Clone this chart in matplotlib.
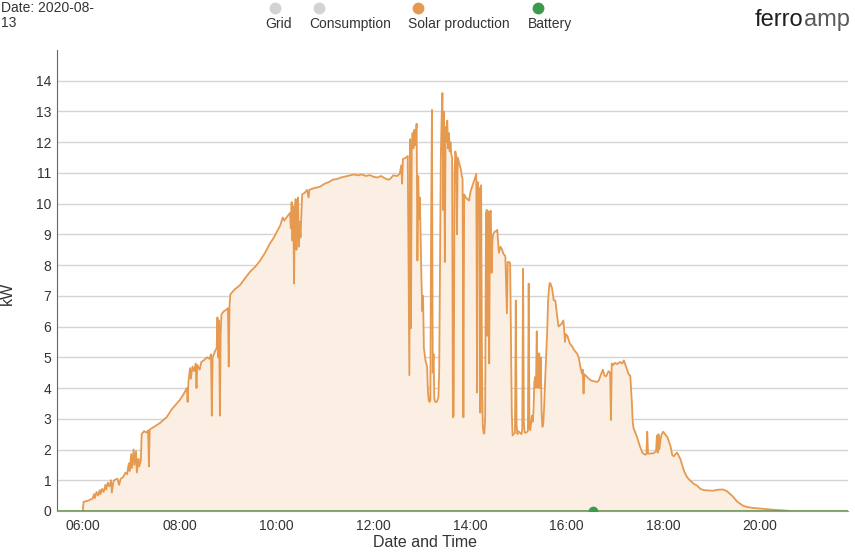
import matplotlib
matplotlib.use("Agg")
import matplotlib.pyplot as plt
import matplotlib.dates as mdates
from matplotlib.lines import Line2D
import pandas as pd

plt.rcParams["font.family"] = ["Liberation Sans", "DejaVu Sans"]

DAY = "2020-08-13"

# solar production, kW
solar_times = [
    "06:00", "06:01", "06:06", "06:12", "06:14", "06:15", "06:17", "06:19", "06:21", "06:22",
    "06:24", "06:26", "06:28", "06:29", "06:31", "06:33", "06:35", "06:36", "06:38", "06:40",
    "06:43", "06:45", "06:47", "06:50", "06:53", "06:55", "06:57", "06:58", "07:00", "07:01",
    "07:03", "07:04", "07:06", "07:07", "07:09", "07:10", "07:12", "07:13", "07:16", "07:19",
    "07:21", "07:22", "07:23", "07:29", "07:35", "07:44", "07:50", "07:55", "08:00", "08:05",
    "08:09", "08:10", "08:11", "08:13", "08:14", "08:16", "08:18", "08:20", "08:21", "08:22",
    "08:25", "08:27", "08:30", "08:34", "08:37", "08:39", "08:40", "08:41", "08:44", "08:46",
    "08:47", "08:48", "08:49", "08:50", "08:51", "08:52", "08:55", "08:58", "09:00", "09:01",
    "09:02", "09:03", "09:08", "09:15", "09:22", "09:28", "09:34", "09:40", "09:46", "09:52",
    "09:57", "10:01", "10:05", "10:08", "10:10", "10:14", "10:17", "10:18", "10:19", "10:20",
    "10:21", "10:22", "10:23", "10:24", "10:25", "10:26", "10:27", "10:28", "10:29", "10:30",
    "10:31", "10:32", "10:35", "10:38", "10:40", "10:41", "10:46", "10:54", "11:00", "11:05",
    "11:10", "11:15", "11:20", "11:25", "11:31", "11:36", "11:41", "11:46", "11:51", "11:56",
    "12:00", "12:05", "12:10", "12:15", "12:19", "12:21", "12:25", "12:30", "12:33", "12:35",
    "12:36", "12:37", "12:41", "12:43", "12:45", "12:46", "12:47", "12:48", "12:49", "12:50",
    "12:51", "12:52", "12:54", "12:55", "12:56", "12:57", "12:58", "12:59", "13:00", "13:01",
    "13:02", "13:03", "13:05", "13:07", "13:08", "13:09", "13:10", "13:11", "13:12", "13:13",
    "13:14", "13:15", "13:16", "13:17", "13:19", "13:21", "13:22", "13:23", "13:24", "13:25",
    "13:26", "13:27", "13:28", "13:29", "13:30", "13:31", "13:32", "13:33", "13:34", "13:35",
    "13:36", "13:37", "13:38", "13:39", "13:40", "13:41", "13:42", "13:43", "13:44", "13:45",
    "13:47", "13:49", "13:50", "13:51", "13:52", "13:53", "13:55", "13:57", "13:59", "14:01",
    "14:04", "14:06", "14:08", "14:09", "14:10", "14:11", "14:12", "14:13", "14:14", "14:15",
    "14:16", "14:17", "14:18", "14:19", "14:20", "14:21", "14:22", "14:23", "14:24", "14:25",
    "14:26", "14:27", "14:28", "14:29", "14:31", "14:33", "14:34", "14:36", "14:38", "14:40",
    "14:42", "14:44", "14:46", "14:47", "14:49", "14:50", "14:51", "14:52", "14:53", "14:54",
    "14:56", "14:57", "14:58", "14:59", "15:00", "15:02", "15:04", "15:05", "15:06", "15:07",
    "15:08", "15:10", "15:12", "15:13", "15:14", "15:15", "15:17", "15:18", "15:19", "15:20",
    "15:21", "15:22", "15:23", "15:24", "15:25", "15:26", "15:27", "15:28", "15:29", "15:30",
    "15:31", "15:32", "15:33", "15:35", "15:36", "15:37", "15:38", "15:39", "15:40", "15:42",
    "15:44", "15:46", "15:48", "15:50", "15:52", "15:54", "15:56", "15:57", "15:58", "15:59",
    "16:01", "16:04", "16:07", "16:09", "16:13", "16:15", "16:17", "16:19", "16:20", "16:21",
    "16:22", "16:24", "16:27", "16:30", "16:34", "16:38", "16:40", "16:42", "16:45", "16:47",
    "16:49", "16:52", "16:54", "16:55", "16:56", "16:58", "17:00", "17:03", "17:06", "17:09",
    "17:11", "17:13", "17:15", "17:17", "17:19", "17:21", "17:22", "17:23", "17:26", "17:28",
    "17:31", "17:34", "17:37", "17:39", "17:40", "17:41", "17:44", "17:48", "17:51", "17:52",
    "17:53", "17:54", "17:55", "17:57", "17:58", "18:00", "18:02", "18:05", "18:07", "18:09",
    "18:11", "18:13", "18:15", "18:17", "18:19", "18:21", "18:24", "18:26", "18:29", "18:31",
    "18:34", "18:38", "18:42", "18:46", "18:50", "18:55", "19:02", "19:07", "19:14", "19:19",
    "19:23", "19:27", "19:31", "19:35", "19:39", "19:44", "19:51", "20:00", "20:09", "20:16",
    "20:29", "20:37",
]
solar_kw = [
    0.00, 0.30, 0.33, 0.40, 0.55, 0.42, 0.62, 0.50, 0.68, 0.55,
    0.72, 0.62, 0.85, 0.70, 0.92, 0.80, 1.00, 0.60, 0.95, 1.02,
    1.05, 0.85, 1.05, 1.10, 1.25, 1.20, 1.55, 1.30, 1.85, 1.40,
    2.00, 1.50, 1.95, 1.25, 1.70, 1.45, 1.65, 2.50, 2.60, 2.55,
    2.62, 1.45, 2.65, 2.75, 2.85, 3.05, 3.30, 3.45, 3.60, 3.80,
    4.00, 3.55, 4.20, 4.65, 4.30, 4.70, 4.55, 4.80, 4.00, 4.75,
    4.60, 4.85, 4.90, 5.00, 4.95, 5.10, 3.10, 5.00, 5.20, 5.30,
    6.30, 5.00, 6.20, 3.10, 5.80, 6.40, 6.50, 6.55, 6.60, 4.70,
    6.70, 7.05, 7.20, 7.35, 7.60, 7.80, 7.95, 8.15, 8.40, 8.70,
    8.90, 9.10, 9.30, 9.55, 9.45, 9.60, 9.70, 9.20, 10.05, 8.80,
    9.90, 7.40, 9.80, 10.15, 8.50, 9.90, 10.20, 8.60, 9.40, 8.90,
    9.60, 10.30, 10.35, 10.45, 10.20, 10.45, 10.50, 10.55, 10.65, 10.70,
    10.78, 10.80, 10.85, 10.88, 10.92, 10.95, 10.92, 10.95, 10.90, 10.93,
    10.88, 10.85, 10.90, 10.82, 10.78, 10.80, 10.92, 10.90, 10.97, 11.25,
    10.65, 11.45, 11.50, 11.55, 4.42, 12.10, 5.95, 11.90, 12.30, 11.80,
    12.40, 11.90, 12.60, 8.15, 10.90, 9.50, 10.20, 8.80, 7.50, 6.50,
    7.00, 5.30, 4.90, 4.70, 3.90, 3.60, 3.55, 3.60, 9.40, 13.05,
    4.50, 5.10, 3.65, 3.55, 3.55, 3.70, 4.50, 8.00, 11.50, 12.80,
    13.60, 9.80, 13.00, 8.10, 12.50, 12.00, 12.70, 11.80, 12.30, 11.70,
    12.00, 11.60, 11.50, 3.05, 3.10, 11.00, 11.70, 11.55, 9.00, 11.50,
    11.30, 11.10, 10.90, 10.80, 3.05, 10.30, 10.20, 10.15, 10.10, 10.40,
    10.65, 10.80, 10.97, 3.85, 10.70, 10.40, 10.50, 3.20, 10.60, 5.00,
    2.80, 2.55, 2.52, 3.00, 9.67, 9.80, 5.70, 9.75, 4.80, 9.70,
    9.77, 7.75, 8.80, 9.00, 9.10, 9.10, 9.15, 8.40, 8.60, 8.50,
    8.35, 8.30, 6.43, 8.10, 8.10, 8.05, 5.50, 3.20, 2.46, 2.50,
    2.55, 6.85, 2.80, 2.50, 2.60, 2.55, 2.50, 2.65, 7.88, 2.90,
    2.55, 2.55, 2.60, 7.40, 2.70, 2.63, 3.10, 2.90, 3.30, 4.20,
    4.36, 4.00, 5.85, 4.10, 4.00, 5.13, 4.00, 5.00, 3.20, 2.74,
    2.80, 3.30, 4.00, 5.30, 5.90, 6.80, 7.20, 7.42, 7.40, 7.25,
    6.86, 6.85, 6.40, 6.00, 6.05, 6.10, 6.20, 5.90, 5.50, 5.75,
    5.70, 5.45, 5.35, 5.25, 5.12, 5.00, 4.70, 4.47, 4.60, 3.82,
    4.45, 4.40, 4.32, 4.25, 4.22, 4.20, 4.25, 4.40, 4.60, 4.40,
    4.38, 4.55, 4.50, 2.96, 4.80, 4.75, 4.82, 4.78, 4.85, 4.80,
    4.90, 4.75, 4.60, 4.45, 4.40, 3.50, 2.90, 2.70, 2.50, 2.35,
    2.10, 1.90, 1.83, 1.85, 2.58, 1.87, 1.87, 1.88, 1.95, 2.45,
    1.90, 2.50, 2.00, 2.40, 2.50, 2.58, 2.50, 2.40, 2.25, 2.10,
    1.82, 1.78, 1.85, 1.90, 1.80, 1.70, 1.44, 1.28, 1.12, 1.05,
    0.97, 0.88, 0.82, 0.72, 0.68, 0.67, 0.66, 0.69, 0.70, 0.64,
    0.55, 0.45, 0.32, 0.24, 0.17, 0.13, 0.10, 0.08, 0.06, 0.04,
    0.02, 0.00,
]

# battery sits at zero all day, one visible point in the afternoon
battery_times = ["00:00", "23:59"]
battery_kw = [0.0, 0.0]
battery_point_time = "16:33"
battery_point_kw = 0.0

legend_labels = ["Grid", "Consumption", "Solar production", "Battery"]
legend_colors = ["#d3d3d3", "#d3d3d3", "#e59a50", "#3d9a4c"]

x_start, x_end = "05:28", "21:49"
y_max = 15
y_ticks = list(range(0, 15))


def ts(hhmm):
    return pd.to_datetime([f"{DAY} {t}" for t in hhmm])


solar_x = ts(solar_times)
battery_x = ts(battery_times)

fig = plt.figure(figsize=(8.55, 5.52), dpi=100)
ax = fig.add_axes([57 / 855, 41 / 552, 791 / 855, 461 / 552])

ax.fill_between(solar_x, solar_kw, 0, color="#fbefe4", linewidth=0, zorder=1)
ax.plot(solar_x, solar_kw, color="#e59a50", linewidth=1.3, zorder=3)
ax.plot(battery_x, battery_kw, color="#6a9255", linewidth=1.2, zorder=4)
ax.plot(ts([battery_point_time]), [battery_point_kw], "o", color="#3d9a4c",
        markersize=6, zorder=5, clip_on=True)

ax.set_xlim(ts([x_start])[0], ts([x_end])[0])
ax.set_ylim(0, y_max)
ax.set_yticks(y_ticks)
ax.xaxis.set_major_locator(mdates.HourLocator(byhour=range(6, 22, 2)))
ax.xaxis.set_major_formatter(mdates.DateFormatter("%H:%M"))
ax.tick_params(axis="both", length=0, labelsize=10, labelcolor="#333333")
ax.tick_params(axis="x", pad=6)
ax.tick_params(axis="y", pad=4)
ax.yaxis.grid(True, color="#d4d4d4", linewidth=1.0, zorder=0)
ax.set_axisbelow(True)

for side in ("top", "right"):
    ax.spines[side].set_visible(False)
ax.spines["left"].set_color("#666666")
ax.spines["bottom"].set_color("#999999")

ax.set_xlabel("Date and Time", fontsize=11.5, color="#333333")
ax.xaxis.set_label_coords(0.465, -0.051)
ax.set_ylabel("kW", fontsize=11.5, color="#333333")
ax.yaxis.set_label_coords(-0.053, 0.473)

fig.text(1 / 855, 1 - 1 / 552, "Date: 2020-08-\n13", fontsize=10, color="#333333",
         va="top", ha="left", linespacing=1.05)

# legend drawn by hand: dot above label
label_left = [265, 309, 408, 528]
for x0, lab, col in zip(label_left, legend_labels, legend_colors):
    fig.text(x0 / 855, 1 - 24 / 552, lab, fontsize=10, color="#333333",
             ha="left", va="center")
    fig.add_artist(Line2D([(x0 + 10) / 855], [1 - 8 / 552], marker="o",
                          markersize=7.5, color=col, linestyle="none",
                          transform=fig.transFigure))

# logo
t1 = fig.text(755 / 855, 1 - 26 / 552, "ferro", fontsize=17, color="#1e1e1e",
              ha="left", va="baseline")
fig.canvas.draw()
bb = t1.get_window_extent()
fig.text(bb.x1 / fig.bbox.width, 1 - 26 / 552, "amp", fontsize=17, color="#5a5a5a",
         ha="left", va="baseline", fontweight="light")

fig.savefig("out.png", dpi=100)
